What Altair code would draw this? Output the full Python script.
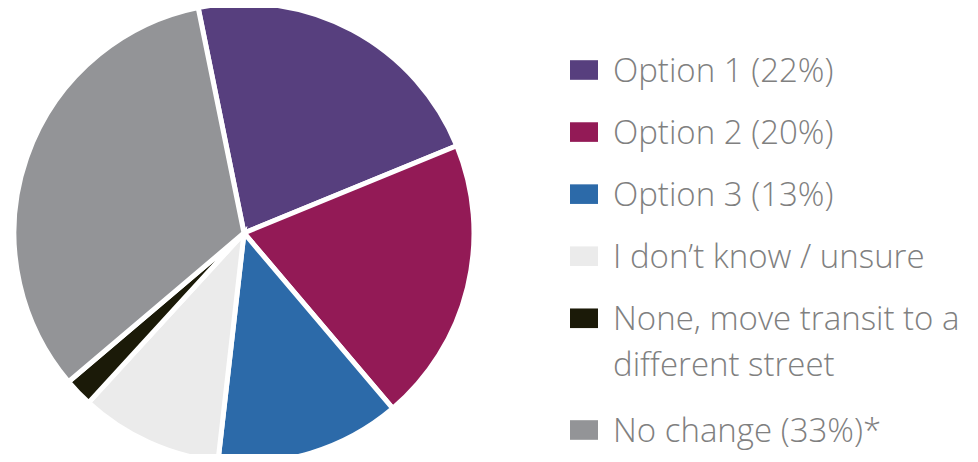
import math
import altair as alt
import pandas as pd

categories = [
    "Option 1 (22%)",
    "Option 2 (20%)",
    "Option 3 (13%)",
    "I don\u2019t know / unsure",
    "None, move transit to a\ndifferent street",
    "No change (33%)*",
]
values = [22, 20, 13, 10, 2, 33]
colors = ["#573f7e", "#931a56", "#2c6aa9", "#ebebeb", "#1b1a08", "#939497"]

# legend slot: index plus extra space taken by wrapped lines above
slots = []
extra = 0.0
for i, c in enumerate(categories):
    slots.append(i + extra)
    extra += 0.8 * c.count("\n")

df = pd.DataFrame({
    "label": categories,
    "value": values,
    "idx": list(range(len(categories))),
    "slot": slots,
})

start = -math.radians(11.5)
color_enc = alt.Color("label:N", scale=alt.Scale(domain=categories, range=colors), legend=None)

base = alt.Chart(df)

pie = base.mark_arc(radius=230, stroke="white", strokeWidth=5).encode(
    theta=alt.Theta("value:Q", stack=True, scale=alt.Scale(range=[start, start + 2 * math.pi])),
    order=alt.Order("idx:Q"),
    color=color_enc,
    x=alt.value(236),
    y=alt.value(225),
)

yenc = alt.Y("slot:Q", scale=alt.Scale(domain=[0, 5.8], range=[62, 422]), axis=None)

squares = base.mark_point(
    shape="M-1,-0.7H1V0.7H-1Z", size=784, filled=True, opacity=1, strokeWidth=0
).encode(
    x=alt.value(576),
    y=yenc,
    color=color_enc,
)

texts = base.mark_text(
    align="left", baseline="alphabetic", dy=12, font="Open Sans", fontSize=33,
    fontWeight=300, color="#808080", lineBreak="\n", lineHeight=46,
).encode(
    x=alt.value(605),
    y=yenc,
    text="label:N",
)

chart = alt.layer(pie, squares, texts).properties(
    width=962, height=446, padding=0, autosize=alt.AutoSizeParams(type="none")
).configure_view(stroke=None)

chart.save("out.html", embed_options={"renderer": "svg", "actions": False})
